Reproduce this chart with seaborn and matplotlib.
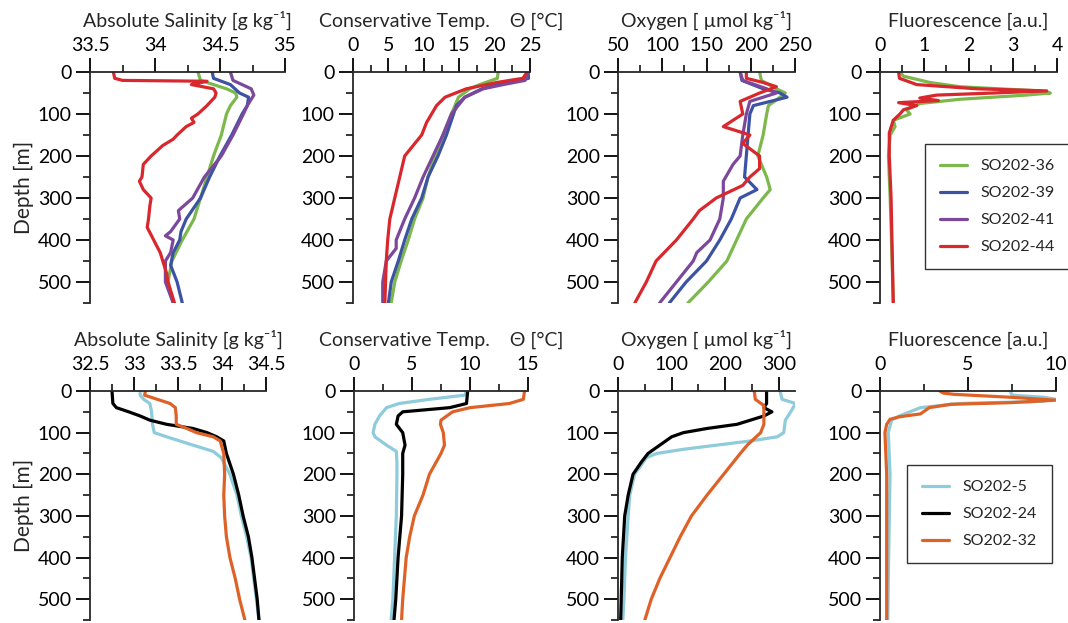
import numpy as np
import pandas as pd
import matplotlib
matplotlib.use("Agg")
import matplotlib.pyplot as plt
from matplotlib.ticker import MultipleLocator, FuncFormatter
import seaborn as sns

# ---------------- data ----------------
# Top row stations
sal36_z = [0,20,40,50,60,80,100,150,200,250,300,350,400,450,500,550]
sal36 = [34.33,34.35,34.55,34.62,34.63,34.58,34.55,34.51,34.45,34.40,34.35,34.30,34.21,34.13,34.10,34.14]
sal39_z = [0,15,30,50,60,80,100,150,200,250,300,350,380,400,430,460,500,550]
sal39 = [34.44,34.45,34.58,34.65,34.72,34.71,34.67,34.59,34.50,34.42,34.35,34.24,34.20,34.19,34.14,34.12,34.17,34.21]
sal41_z = [0,20,40,55,80,100,150,200,250,300,330,350,380,390,400,430,450,500,550]
sal41 = [34.58,34.60,34.74,34.76,34.71,34.68,34.60,34.51,34.38,34.29,34.18,34.19,34.12,34.08,34.14,34.12,34.08,34.08,34.14]
sal44_z = [0,15,20,22,30,40,50,60,70,80,100,110,120,130,150,160,175,200,220,250,260,280,300,320,350,370,400,430,450,480,500,550]
sal44 = [33.68,33.69,33.75,34.40,34.28,34.45,34.47,34.46,34.43,34.40,34.33,34.28,34.30,34.24,34.17,34.14,34.06,33.97,33.91,33.90,33.88,33.91,33.97,33.96,33.95,33.94,33.99,34.04,34.06,34.09,34.10,34.15]

tem36_z = [0,15,30,40,60,100,150,200,250,300,350,400,450,500,550]
tem36 = [20.5,20.4,17.9,16.5,14.9,13.9,12.7,11.6,10.6,9.9,8.7,7.8,6.8,5.9,5.4]
tem39_z = [0,15,30,40,60,80,100,150,200,250,300,350,400,450,500,550]
tem39 = [24.9,24.8,20.3,18.2,15.8,14.6,14.2,13.2,12.0,10.6,9.7,8.3,7.3,6.4,5.4,5.0]
tem41_z = [0,20,30,40,60,100,150,200,250,300,350,400,420,450,500,550]
tem41 = [24.9,24.3,21.2,18.4,15.8,13.9,12.7,11.3,9.9,8.7,7.3,6.1,6.1,4.7,4.2,4.2]
tem44_z = [0,15,25,40,60,80,100,120,150,200,250,300,350,400,450,500,550]
tem44 = [24.6,24.0,20.3,16.0,13.0,11.8,11.1,10.4,9.7,7.3,6.6,5.9,5.2,4.9,4.7,4.6,4.5]

oxy36_z = [0,20,40,50,60,80,100,150,200,250,280,300,350,400,450,500,550]
oxy36 = [210,212,229,239,233,220,218,214,208,218,222,214,195,184,173,152,129]
oxy39_z = [0,20,40,50,60,80,100,150,200,250,280,300,350,400,450,500,550]
oxy39 = [188,190,214,233,241,203,199,197,195,193,207,188,178,165,150,127,108]
oxy41_z = [0,20,40,50,70,100,150,200,220,260,300,350,400,430,450,500,550]
oxy41 = [188,191,218,229,199,195,191,188,180,169,169,165,154,139,135,116,97]
oxy44_z = [0,15,25,35,50,70,100,130,150,170,200,230,250,270,300,330,350,400,450,500,550]
oxy44 = [195,195,214,229,210,188,191,169,199,191,210,210,199,191,161,142,135,116,93,82,69]

flu36_z = [0,10,25,35,45,50,55,65,75,90,100,115,130,150,200,300,400,550]
flu36 = [0.45,0.53,1.13,1.8,3.6,3.85,3.3,1.8,0.9,0.6,0.68,0.3,0.34,0.23,0.19,0.23,0.26,0.3]
flu44_z = [0,15,30,40,45,50,55,62,68,73,80,90,100,115,145,200,300,400,550]
flu44 = [0.42,0.44,0.83,2.19,3.77,2.57,1.28,0.9,1.32,0.42,0.83,0.53,0.45,0.3,0.21,0.21,0.25,0.27,0.3]

# Bottom row stations
sal5_z = [0,10,20,30,50,80,100,110,130,145,160,200,250,300,350,400,450,500,550]
sal5 = [33.07,33.07,33.11,33.18,33.20,33.21,33.23,33.37,33.67,33.90,33.99,34.09,34.17,34.22,34.28,34.33,34.36,34.39,34.42]
sal24_z = [0,30,40,50,60,70,80,90,100,110,120,150,200,250,300,350,400,450,500,550]
sal24 = [32.75,32.76,32.80,32.94,33.07,33.18,33.37,33.67,33.83,33.94,34.02,34.05,34.13,34.19,34.24,34.30,34.34,34.37,34.40,34.42]
sal32_z = [0,10,30,40,60,80,90,100,110,120,150,200,250,300,350,400,450,500,550]
sal32 = [33.13,33.12,33.41,33.47,33.48,33.48,33.60,33.71,33.90,33.98,34.02,34.03,34.02,34.03,34.05,34.09,34.15,34.20,34.26]

tem5_z = [0,10,20,30,40,60,80,100,110,130,145,170,200,300,400,500,550]
tem5 = [9.7,9.55,6.5,3.9,2.8,2.2,1.8,1.65,1.8,2.8,3.65,3.7,3.7,3.65,3.5,3.35,3.2]
tem24_z = [0,30,40,50,60,80,100,130,150,200,300,400,500,550]
tem24 = [9.8,9.7,8.25,4.2,3.8,3.65,4.2,4.4,4.2,4.2,4.1,3.8,3.6,3.45]
tem32_z = [0,20,30,40,50,70,80,100,130,150,200,250,300,350,400,500,550]
tem32 = [14.7,14.6,13.4,10.0,8.5,7.5,7.45,7.7,7.8,7.5,6.5,5.95,5.2,4.8,4.5,4.2,4.1]

oxy5_z = [0,20,30,50,70,100,110,120,130,140,150,160,200,250,300,400,500,550]
oxy5 = [302,306,331,322,312,309,297,247,184,122,72,53,31,22,19,14,11,9]
oxy24_z = [0,30,40,50,60,70,80,90,100,110,130,150,170,200,250,300,400,500,550]
oxy24 = [277,277,272,287,272,247,222,166,122,100,78,56,44,28,19,12.5,8,6,5]
oxy32_z = [0,20,35,50,80,100,130,150,200,250,300,350,400,450,500,550]
oxy32 = [254,256,272,272,272,266,241,228,197,166,137,116,97,78,62,50]

flu5_z = [0,10,15,20,25,30,40,50,60,70,100,200,300,400,550]
flu5 = [7.4,7.5,9.3,10.0,9.1,4.5,2.3,1.7,1.1,0.66,0.47,0.57,0.53,0.49,0.44]
flu32_z = [0,5,8,15,22,28,32,40,55,62,68,80,100,200,300,400,550]
flu32 = [3.4,3.6,4.2,7.4,10.0,7.4,4.0,2.8,2.3,1.1,0.57,0.38,0.28,0.38,0.38,0.38,0.38]

top_stations = ["SO202-36", "SO202-39", "SO202-41", "SO202-44"]
bot_stations = ["SO202-5", "SO202-24", "SO202-32"]
titles = ["Absolute Salinity [g kg\u207b\u00b9]", "Conservative Temp.    \u0398 [\u00b0C]",
          "Oxygen [ \u00b5mol kg\u207b\u00b9]", "Fluorescence [a.u.]"]

# ---------------- build long table ----------------
records = []
def add(row, var, st, z, v):
    for zz, vv in zip(z, v):
        records.append(dict(row=row, var=var, station=st, depth=zz, value=vv))

add(0, "sal", "SO202-36", sal36_z, sal36); add(0, "sal", "SO202-39", sal39_z, sal39)
add(0, "sal", "SO202-41", sal41_z, sal41); add(0, "sal", "SO202-44", sal44_z, sal44)
add(0, "tem", "SO202-36", tem36_z, tem36); add(0, "tem", "SO202-39", tem39_z, tem39)
add(0, "tem", "SO202-41", tem41_z, tem41); add(0, "tem", "SO202-44", tem44_z, tem44)
add(0, "oxy", "SO202-36", oxy36_z, oxy36); add(0, "oxy", "SO202-39", oxy39_z, oxy39)
add(0, "oxy", "SO202-41", oxy41_z, oxy41); add(0, "oxy", "SO202-44", oxy44_z, oxy44)
add(0, "flu", "SO202-36", flu36_z, flu36); add(0, "flu", "SO202-44", flu44_z, flu44)
add(1, "sal", "SO202-5", sal5_z, sal5); add(1, "sal", "SO202-24", sal24_z, sal24)
add(1, "sal", "SO202-32", sal32_z, sal32)
add(1, "tem", "SO202-5", tem5_z, tem5); add(1, "tem", "SO202-24", tem24_z, tem24)
add(1, "tem", "SO202-32", tem32_z, tem32)
add(1, "oxy", "SO202-5", oxy5_z, oxy5); add(1, "oxy", "SO202-24", oxy24_z, oxy24)
add(1, "oxy", "SO202-32", oxy32_z, oxy32)
add(1, "flu", "SO202-5", flu5_z, flu5); add(1, "flu", "SO202-32", flu32_z, flu32)
df = pd.DataFrame(records)

palette = {"SO202-36": "#7cb84c", "SO202-39": "#3c53a3", "SO202-41": "#7b489b",
           "SO202-44": "#d8272d", "SO202-5": "#8ecbdb", "SO202-24": "#000000",
           "SO202-32": "#de6228"}

# ---------------- style ----------------
sns.set_theme(style="ticks")
plt.rcParams["font.family"] = ["Lato", "DejaVu Sans"]
plt.rcParams["axes.linewidth"] = 1.3

W, H = 1068, 623
fig = plt.figure(figsize=(W / 100, H / 100), dpi=100)

# panel pixel boxes: (left, right, top, bottom)
boxes = {
    (0, "sal"): (90, 285, 72, 303), (0, "tem"): (353, 530, 72, 303),
    (0, "oxy"): (618, 795, 72, 303), (0, "flu"): (880, 1057, 72, 303),
    (1, "sal"): (90, 266, 391, 620), (1, "tem"): (354, 528, 391, 620),
    (1, "oxy"): (618, 795, 391, 620), (1, "flu"): (880, 1056, 391, 620),
}
xlims = {(0, "sal"): (33.5, 35), (0, "tem"): (0, 25), (0, "oxy"): (50, 250), (0, "flu"): (0, 4),
         (1, "sal"): (32.5, 34.5), (1, "tem"): (0, 15), (1, "oxy"): (0, 330), (1, "flu"): (0, 10)}
majors = {(0, "sal"): 0.5, (0, "tem"): 5, (0, "oxy"): 50, (0, "flu"): 1,
          (1, "sal"): 0.5, (1, "tem"): 5, (1, "oxy"): 100, (1, "flu"): 5}

fmt = FuncFormatter(lambda v, p: "%g" % v)
axes = {}
for (row, var), (l, r, t, b) in boxes.items():
    ax = fig.add_axes([l / W, 1 - b / H, (r - l) / W, (b - t) / H])
    axes[(row, var)] = ax
    sub = df[(df.row == row) & (df["var"] == var)]
    order = top_stations if row == 0 else bot_stations
    sns.lineplot(data=sub, x="value", y="depth", hue="station", hue_order=order,
                 palette=palette, sort=False, estimator=None, legend=False,
                 linewidth=2.3, ax=ax)
    ax.set_xlim(*xlims[(row, var)])
    ax.set_ylim(550, 0)
    ax.xaxis.tick_top()
    ax.xaxis.set_label_position("top")
    ax.spines["bottom"].set_visible(False)
    ax.spines["right"].set_visible(False)
    ax.xaxis.set_major_locator(MultipleLocator(majors[(row, var)]))
    ax.xaxis.set_minor_locator(MultipleLocator(majors[(row, var)] / 2))
    ax.xaxis.set_major_formatter(fmt)
    ax.yaxis.set_major_locator(MultipleLocator(100))
    ax.yaxis.set_minor_locator(MultipleLocator(50))
    ax.set_yticks([0, 100, 200, 300, 400, 500])
    ax.tick_params(which="major", direction="out", length=10, width=1.3, labelsize=14,
                   pad=3, colors="black")
    ax.tick_params(which="minor", direction="out", length=5, width=1.3)
    ax.set_xlabel(titles[["sal", "tem", "oxy", "flu"].index(var)], fontsize=14, labelpad=7)
    ax.set_ylabel("Depth [m]" if var == "sal" else "", fontsize=15, labelpad=3)
    ax.set_facecolor("none")

# legends
for row, stations, anchor in [(0, top_stations, (925, 144)), (1, bot_stations, (907, 465))]:
    handles = [plt.Line2D([], [], color=palette[s], lw=2.3) for s in stations]
    leg = fig.legend(handles, stations, loc="upper left",
                     bbox_to_anchor=(anchor[0] / W, 1 - anchor[1] / H),
                     fontsize=11.5, frameon=True, fancybox=False, edgecolor="black",
                     handlelength=1.7, handletextpad=0.85, labelspacing=0.8,
                     borderpad=0.95, borderaxespad=0)
    leg.get_frame().set_linewidth(1.0)

fig.savefig("out.png", dpi=100)
